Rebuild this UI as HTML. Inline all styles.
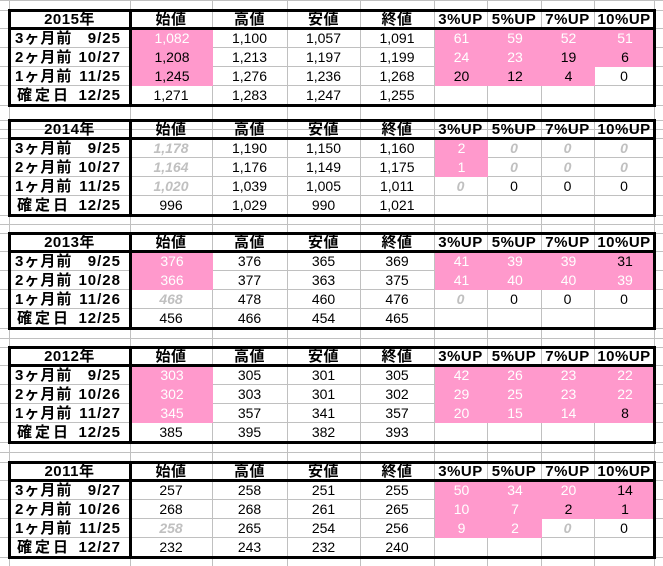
<!DOCTYPE html>
<html><head><meta charset="utf-8">
<style>
body{margin:0;background:#fff;}
#sheet{position:relative;width:663px;height:566px;overflow:hidden;background:#fff;font-family:"Liberation Sans","Noto Sans CJK JP",sans-serif;}
.gl{position:absolute;background:#c0c0c0;}
.c{position:absolute;box-sizing:border-box;text-align:center;font-size:14px;line-height:19px;color:#000;white-space:nowrap;}
.p{background:#ff99cc;}
.w{color:#fff;}
.g{color:#c0c0c0;font-style:italic;font-weight:bold;}
.h{font-weight:bold;font-size:15px;line-height:20px;letter-spacing:0.5px;}
.lb{position:absolute;font-weight:bold;font-size:15px;line-height:19px;white-space:nowrap;letter-spacing:1px;}
.tb{position:absolute;box-sizing:border-box;border:3px solid #000;pointer-events:none;}
.line{position:absolute;background:#000;}
</style></head>
<body>
<div id="sheet"></div>
<script>
const colX=[9,130,212,287,360,434,487,541,594,654];
const heads=["始値","高値","安値","終値","3%UP","5%UP","7%UP","10%UP"];
const tops=[10,120,233,347,462];
const years=["2015年","2014年","2013年","2012年","2011年"];
const rowLabels=[
 [["3ヶ月前","9/25"],["2ヶ月前","10/27"],["1ヶ月前","11/25"],["確定日","12/25"]],
 [["3ヶ月前","9/25"],["2ヶ月前","10/27"],["1ヶ月前","11/25"],["確定日","12/25"]],
 [["3ヶ月前","9/25"],["2ヶ月前","10/28"],["1ヶ月前","11/26"],["確定日","12/25"]],
 [["3ヶ月前","9/25"],["2ヶ月前","10/26"],["1ヶ月前","11/27"],["確定日","12/25"]],
 [["3ヶ月前","9/27"],["2ヶ月前","10/26"],["1ヶ月前","11/25"],["確定日","12/27"]]
];
const values=[
 [["1,082:w","1,100","1,057","1,091","61:w","59:w","52:w","51:w"],
  ["1,208:p","1,213","1,197","1,199","24:w","23:w","19:p","6:p"],
  ["1,245:p","1,276","1,236","1,268","20:p","12:p","4:p","0"],
  ["1,271","1,283","1,247","1,255","","","",""]],
 [["1,178:g","1,190","1,150","1,160","2:w","0:g","0:g","0:g"],
  ["1,164:g","1,176","1,149","1,175","1:w","0:g","0:g","0:g"],
  ["1,020:g","1,039","1,005","1,011","0:g","0","0","0"],
  ["996","1,029","990","1,021","","","",""]],
 [["376:w","376","365","369","41:w","39:w","39:w","31:p"],
  ["366:w","377","363","375","41:w","40:w","40:w","39:w"],
  ["468:g","478","460","476","0:g","0","0","0"],
  ["456","466","454","465","","","",""]],
 [["303:w","305","301","305","42:w","26:w","23:w","22:w"],
  ["302:w","303","301","302","29:w","25:w","23:w","22:w"],
  ["345:w","357","341","357","20:w","15:w","14:w","8:p"],
  ["385","395","382","393","","","",""]],
 [["257","258","251","255","50:w","34:w","20:w","14:p"],
  ["268","268","261","265","10:w","7:w","2:p","1:p"],
  ["258:g","265","254","256","9:w","2:w","0:g","0"],
  ["232","243","232","240","","","",""]]
];
const S=document.getElementById('sheet');
function mk(cls,x,y,w,h){const d=document.createElement('div');d.className=cls;d.style.left=x+'px';d.style.top=y+'px';d.style.width=w+'px';d.style.height=h+'px';S.appendChild(d);return d;}
const rowYs=[];
tops.forEach(t=>{[0,18,37,56,75,95].forEach(o=>rowYs.push(t+o));});
[0,129,224,338,452].forEach(y=>rowYs.push(y));
rowYs.forEach(y=>{const g=mk('gl',0,y,663,1);

});
colX.forEach(x=>{const g=mk('gl',x,0,1,566);

});
const rowOff=[18,37,56,75];
tops.forEach((t,b)=>{
 const yc=mk('c h',colX[0],t,colX[1]-colX[0],18);
 yc.textContent=years[b];
 
 
 heads.forEach((hd,i)=>{const c=mk('c h',colX[i+1],t,colX[i+2]-colX[i+1],18);c.textContent=hd;
  
  });
 rowOff.forEach((o,r)=>{
  const y=t+o+1;
  const l1=mk('lb',r==3?17:15,y,80,19);l1.textContent=rowLabels[b][r][0];
  if(r==3)l1.style.letterSpacing='3px';
  
  
  const l2=mk('lb',66,y,55,19);l2.style.textAlign='right';l2.textContent=rowLabels[b][r][1];
  
  
  values[b][r].forEach((v,i)=>{
   const parts=v.split(':');const st=parts[1]||'';
   let cls='c';
   if(st==='w')cls+=' p w';else if(st==='p')cls+=' p';else if(st==='g')cls+=' g';
   const c=mk(cls,colX[i+1]+(st==='w'||st==='p'?1:0),t+o+1,colX[i+2]-colX[i+1],19);
   c.textContent=parts[0];
   
   
  });
 });
 const bx=mk('tb',colX[0]-1,t-1,colX[9]-colX[0]+3,98);
 
 
 const hl=mk('line',colX[0],t+17,colX[9]-colX[0],3);
 
 
 const vl=mk('line',colX[1]-1,t,3,96);
 
 
});
</script>
</body></html>
